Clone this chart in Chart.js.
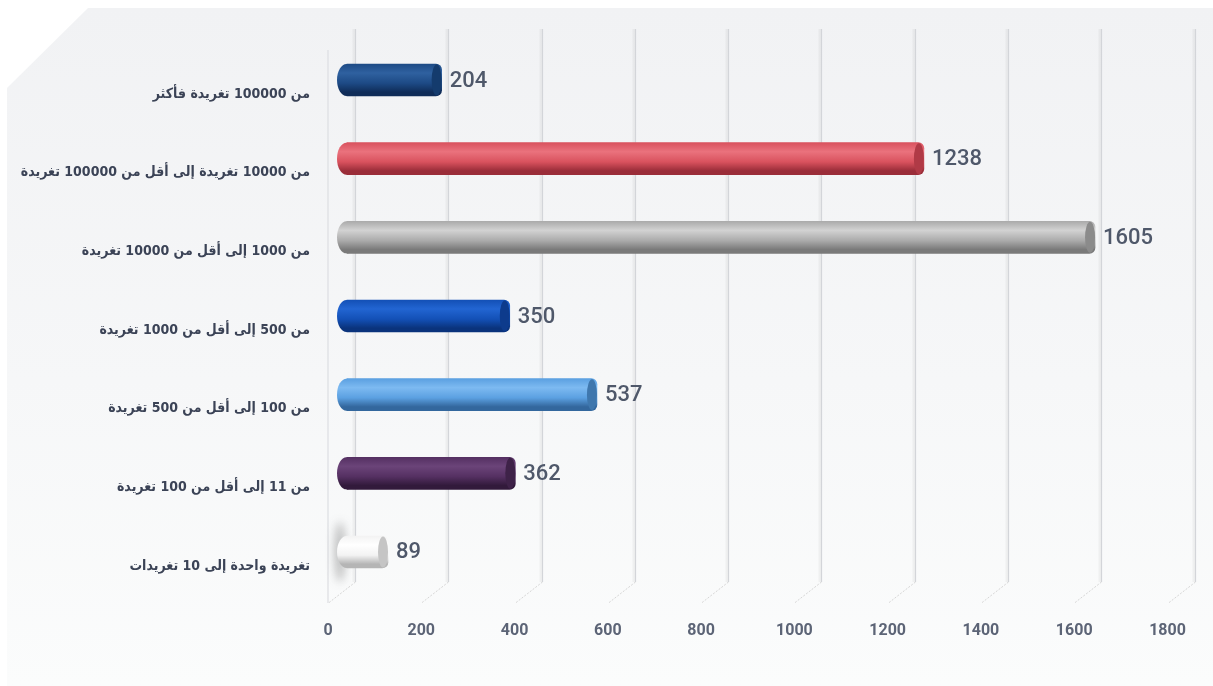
<!DOCTYPE html>
<html lang="ar">
<head>
<meta charset="utf-8">
<title>توزيع الحسابات حسب عدد التغريدات</title>
<script src="https://cdn.jsdelivr.net/npm/chart.js@4.4.1/dist/chart.umd.min.js"></script>
<style>
  html, body { margin: 0; padding: 0; background: #ffffff; }
  #wrap { width: 1213px; height: 686px; }
</style>
</head>
<body>
<div id="wrap"><canvas id="chart" width="1213" height="686"></canvas></div>
<script>
// Tweet-count bands, top to bottom
const categories = [
  'من 100000 تغريدة فأكثر',
  'من 10000 تغريدة إلى أقل من 100000 تغريدة',
  'من 1000 إلى أقل من 10000 تغريدة',
  'من 500 إلى أقل من 1000 تغريدة',
  'من 100 إلى أقل من 500 تغريدة',
  'من 11 إلى أقل من 100 تغريدة',
  'تغريدة واحدة إلى 10 تغريدات'
];

// Number of accounts in each band
const accounts = [204, 1238, 1605, 350, 537, 362, 89];

// Value axis range
const axisMin = 0;
const axisMax = 1800;
const axisStep = 200;

// Cylinder shading per bar: [highlight, body, shade, end cap]
const cylinderShades = [
  ['#2f61a0', '#1d4a85', '#0f2c58', '#143b6d'],
  ['#ea727d', '#d9525e', '#9a2d39', '#b03a46'],
  ['#d2d2d2', '#ababab', '#7a7a7a', '#8b8b8b'],
  ['#2265d2', '#1350b6', '#0a337c', '#0d3b8c'],
  ['#7dbaf1', '#5ba0e1', '#33679d', '#3f77ad'],
  ['#6b4479', '#553062', '#321a3b', '#3e2248'],
  ['#ffffff', '#f3f3f3', '#b5b5b5', '#c5c5c5']
];

const BAR_H = 32;
const LEFT_CAP = 9.5;
const RIGHT_CAP = 5;

function cylinderFill(ctx, shades, yTop, yBot) {
  const g = ctx.createLinearGradient(0, yTop, 0, yBot);
  g.addColorStop(0, shades[1]);
  g.addColorStop(0.28, shades[0]);
  g.addColorStop(0.6, shades[1]);
  g.addColorStop(0.88, shades[2]);
  g.addColorStop(1, shades[2]);
  return g;
}

// Panel background with a clipped top-left corner
const panelPlugin = {
  id: 'panel',
  beforeDraw(chart) {
    const ctx = chart.ctx;
    ctx.save();
    ctx.fillStyle = '#ffffff';
    ctx.fillRect(0, 0, chart.width, chart.height);
    const g = ctx.createLinearGradient(0, 8, 0, chart.height);
    g.addColorStop(0, '#f1f2f4');
    g.addColorStop(0.55, '#f6f7f8');
    g.addColorStop(1, '#fbfcfc');
    ctx.fillStyle = g;
    ctx.beginPath();
    ctx.moveTo(7, 88);
    ctx.lineTo(88, 8);
    ctx.lineTo(chart.width, 8);
    ctx.lineTo(chart.width, chart.height);
    ctx.lineTo(7, chart.height);
    ctx.closePath();
    ctx.fill();
    ctx.restore();
  }
};

// Back-wall grid lines with their slanted floor edges, and the left ends of the cylinders
const wallPlugin = {
  id: 'wall',
  beforeDatasetsDraw(chart) {
    const ctx = chart.ctx;
    const xs = chart.scales.x;
    const top = 29, floorBack = 582, floorFront = 603, depth = 27;
    ctx.save();
    // front edge of the floor at zero
    ctx.strokeStyle = '#dcdee2';
    ctx.lineWidth = 1.2;
    ctx.beginPath();
    ctx.moveTo(xs.getPixelForValue(axisMin) - 18.5, 50);
    ctx.lineTo(xs.getPixelForValue(axisMin) - 18.5, floorFront);
    ctx.stroke();
    xs.ticks.forEach(t => {
      const x = Math.round(xs.getPixelForValue(t.value) + 8.5) + 0.5;
      // soft shadow beside the line
      ctx.strokeStyle = 'rgba(0,0,0,0.04)';
      ctx.lineWidth = 3;
      ctx.beginPath();
      ctx.moveTo(x - 1.5, top);
      ctx.lineTo(x - 1.5, floorBack);
      ctx.stroke();
      ctx.strokeStyle = '#d3d5d9';
      ctx.lineWidth = 1.2;
      ctx.beginPath();
      ctx.moveTo(x, top);
      ctx.lineTo(x, floorBack);
      ctx.stroke();
      ctx.strokeStyle = '#d6d6d6';
      ctx.lineWidth = 1;
      ctx.setLineDash([2, 1.5]);
      ctx.beginPath();
      ctx.moveTo(x, floorBack);
      ctx.lineTo(x - depth, floorFront);
      ctx.stroke();
      ctx.setLineDash([]);
    });

    const meta = chart.getDatasetMeta(0);
    meta.data.forEach((bar, i) => {
      const yTop = bar.y - BAR_H / 2, yBot = bar.y + BAR_H / 2;
      if (i === meta.data.length - 1) {
        // blurred contact shadow behind the light cylinder
        ctx.save();
        ctx.filter = 'blur(5px)';
        ctx.fillStyle = 'rgba(60,60,60,0.35)';
        ctx.beginPath();
        ctx.ellipse(bar.base - LEFT_CAP + 3, bar.y, 5, 30, 0, 0, Math.PI * 2);
        ctx.fill();
        ctx.restore();
      }
      ctx.fillStyle = cylinderFill(ctx, cylinderShades[i], yTop, yBot);
      ctx.beginPath();
      ctx.ellipse(bar.base, bar.y, LEFT_CAP, BAR_H / 2, 0, 0, Math.PI * 2);
      ctx.fill();
    });
    ctx.restore();
  },
  afterDatasetsDraw(chart) {
    const ctx = chart.ctx;
    const meta = chart.getDatasetMeta(0);
    ctx.save();
    meta.data.forEach((bar, i) => {
      const sh = cylinderShades[i];
      // end cap of the cylinder
      ctx.fillStyle = sh[3];
      ctx.beginPath();
      ctx.ellipse(bar.x - RIGHT_CAP, bar.y, RIGHT_CAP, BAR_H / 2 - 0.5, 0, 0, Math.PI * 2);
      ctx.fill();
      // value label
      ctx.fillStyle = '#4f586a';
      ctx.font = '500 22px Roboto, "DejaVu Sans", sans-serif';
      ctx.textAlign = 'left';
      ctx.textBaseline = 'middle';
      ctx.fillText(String(accounts[i]), bar.x + 8, bar.y + 1);
    });
    ctx.restore();
  }
};

Chart.defaults.font.family = 'Roboto, "DejaVu Sans", sans-serif';

new Chart(document.getElementById('chart'), {
  type: 'bar',
  data: {
    labels: categories,
    datasets: [{
      data: accounts,
      barThickness: BAR_H,
      borderSkipped: false,
      borderWidth: 0,
      borderRadius: { topLeft: 0, bottomLeft: 0, topRight: 6, bottomRight: 6 },
      backgroundColor(c) {
        const chart = c.chart;
        const sh = cylinderShades[c.dataIndex % cylinderShades.length];
        if (!chart.chartArea || !chart.scales.y) return sh[1];
        const yc = chart.scales.y.getPixelForValue(c.dataIndex);
        return cylinderFill(chart.ctx, sh, yc - BAR_H / 2, yc + BAR_H / 2);
      }
    }]
  },
  options: {
    indexAxis: 'y',
    responsive: false,
    animation: false,
    events: [],
    layout: { padding: { left: 0, right: 27, top: 40.7, bottom: 0 } },
    plugins: {
      legend: { display: false },
      tooltip: { enabled: false }
    },
    scales: {
      x: {
        min: axisMin,
        max: axisMax,
        grid: { display: false, drawTicks: false },
        border: { display: false },
        ticks: {
          stepSize: axisStep,
          labelOffset: -18.5,
          padding: 30,
          color: '#5c6476',
          font: { size: 16, weight: 'bold' },
          callback: v => String(v)
        },
        afterFit(scale) {
          scale.height = 94.7;
          scale.paddingLeft = 0;
          scale.paddingRight = 0;
        }
      },
      y: {
        grid: { display: false, drawTicks: false },
        border: { display: false },
        ticks: {
          padding: 36.5,
          labelOffset: 14,
          color: '#3b4356',
          font: { family: '"DejaVu Sans Condensed", "DejaVu Sans", sans-serif', size: 14, weight: 'bold' }
        },
        afterFit(scale) {
          scale.width = 346.5;
          scale.paddingTop = 0;
          scale.paddingBottom = 0;
        }
      }
    }
  },
  plugins: [panelPlugin, wallPlugin]
});
</script>
</body>
</html>
